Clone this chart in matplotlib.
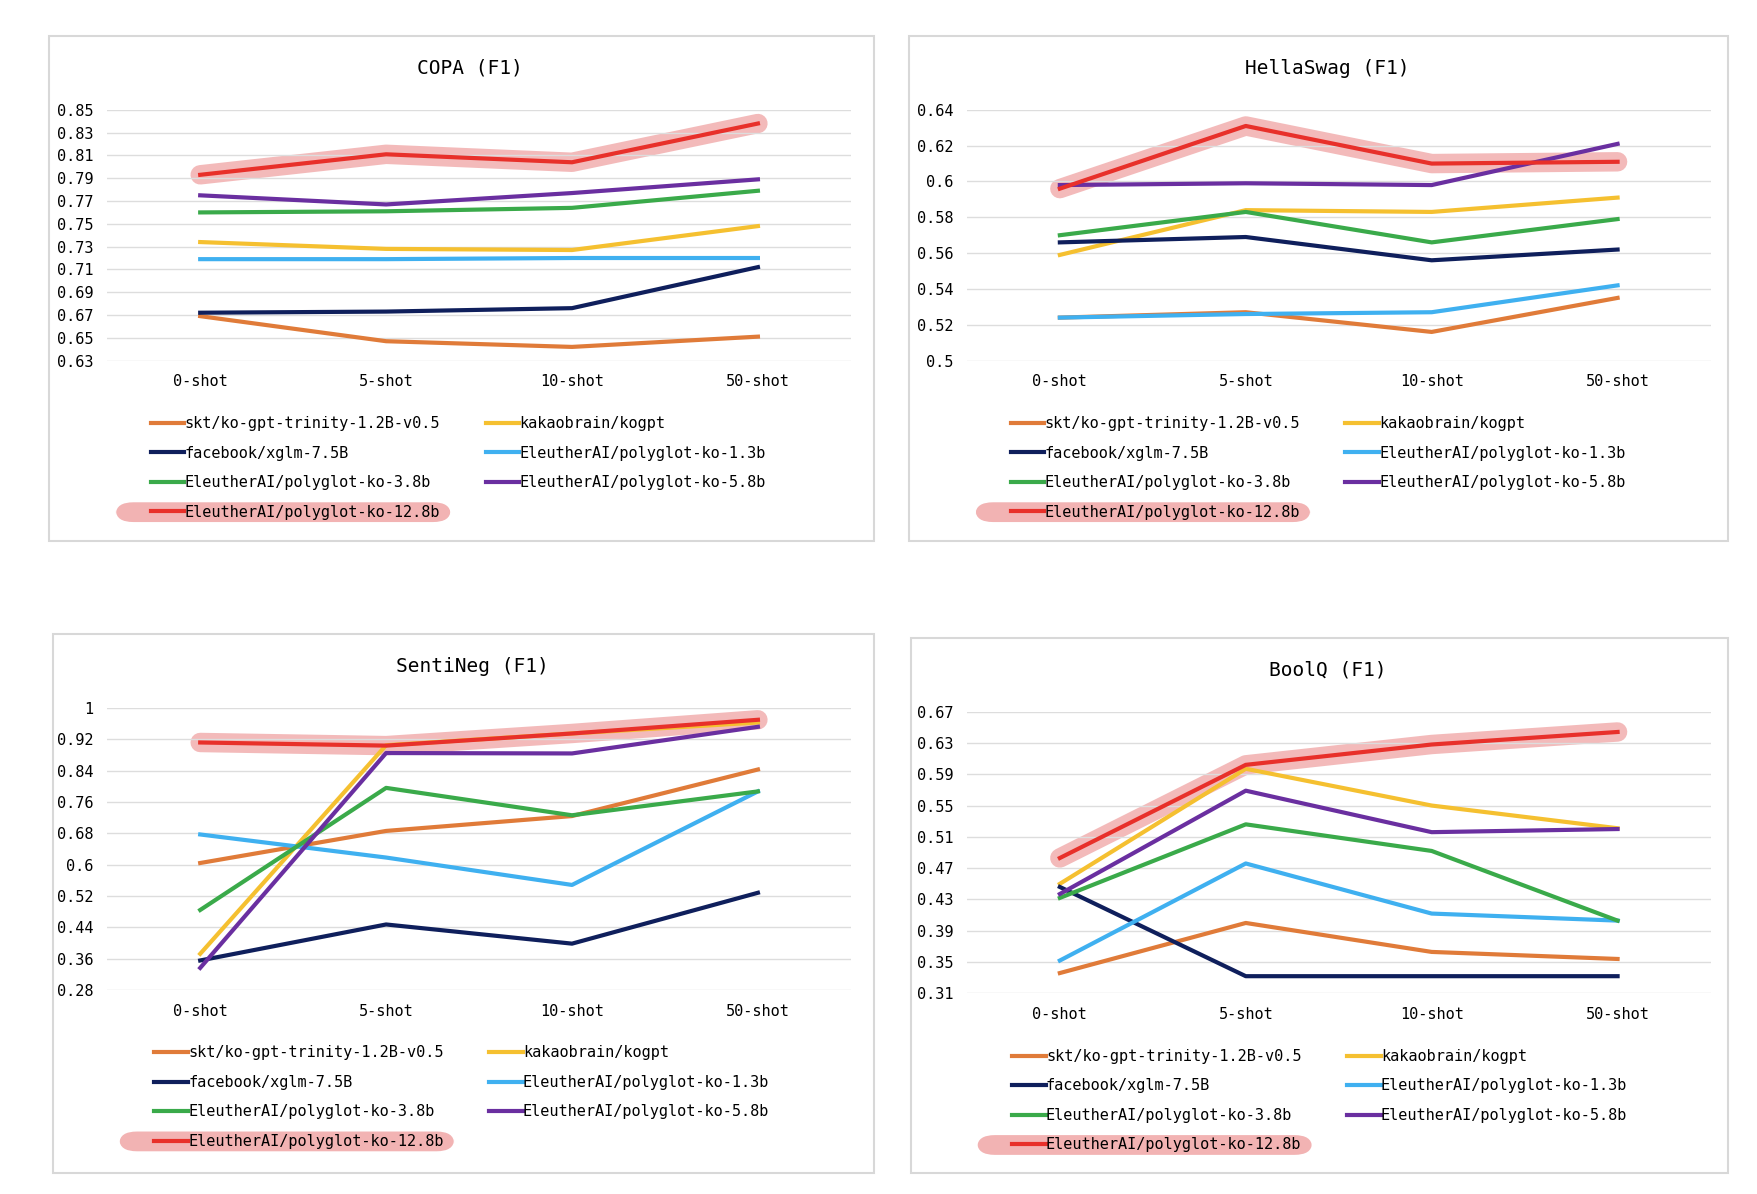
import numpy as np
import matplotlib
matplotlib.use('Agg')
import matplotlib.pyplot as plt
from matplotlib.patches import Rectangle, FancyBboxPatch

plt.rcParams['font.family'] = 'DejaVu Sans Mono'

shots = ['0-shot', '5-shot', '10-shot', '50-shot']
models = ['skt/ko-gpt-trinity-1.2B-v0.5', 'kakaobrain/kogpt',
          'facebook/xglm-7.5B', 'EleutherAI/polyglot-ko-1.3b',
          'EleutherAI/polyglot-ko-3.8b', 'EleutherAI/polyglot-ko-5.8b',
          'EleutherAI/polyglot-ko-12.8b']
colors = ['#e07b39', '#f5c030', '#0f1f5c', '#3fb0f0', '#3aaa4a', '#6a2fa0', '#e8302a']

copa = [[0.669, 0.647, 0.642, 0.651], [0.734, 0.728, 0.727, 0.748],
        [0.672, 0.673, 0.676, 0.712], [0.719, 0.719, 0.720, 0.720],
        [0.760, 0.761, 0.764, 0.779], [0.775, 0.767, 0.777, 0.789],
        [0.793, 0.811, 0.804, 0.838]]
hella = [[0.524, 0.527, 0.516, 0.535], [0.559, 0.584, 0.583, 0.591],
         [0.566, 0.569, 0.556, 0.562], [0.524, 0.526, 0.527, 0.542],
         [0.570, 0.583, 0.566, 0.579], [0.598, 0.599, 0.598, 0.621],
         [0.596, 0.631, 0.610, 0.611]]
sentineg = [[0.604, 0.686, 0.724, 0.843], [0.372, 0.905, 0.935, 0.963],
            [0.355, 0.447, 0.398, 0.528], [0.677, 0.618, 0.548, 0.787],
            [0.484, 0.796, 0.726, 0.787], [0.336, 0.885, 0.884, 0.952],
            [0.912, 0.904, 0.935, 0.970]]
boolq = [[0.336, 0.400, 0.363, 0.354], [0.450, 0.597, 0.550, 0.521],
         [0.446, 0.332, 0.332, 0.332], [0.352, 0.476, 0.412, 0.403],
         [0.432, 0.526, 0.492, 0.403], [0.437, 0.569, 0.516, 0.520],
         [0.483, 0.602, 0.628, 0.644]]

copa_ticks = ['0.63', '0.65', '0.67', '0.69', '0.71', '0.73', '0.75', '0.77', '0.79', '0.81', '0.83', '0.85']
hella_ticks = ['0.5', '0.52', '0.54', '0.56', '0.58', '0.6', '0.62', '0.64']
senti_ticks = ['0.28', '0.36', '0.44', '0.52', '0.6', '0.68', '0.76', '0.84', '0.92', '1']
boolq_ticks = ['0.31', '0.35', '0.39', '0.43', '0.47', '0.51', '0.55', '0.59', '0.63', '0.67']

panels = [
    ('COPA (F1)', copa, copa_ticks, 0.028, 0.497, 0.547, 0.970, 0.061, 0.484),
    ('HellaSwag (F1)', hella, hella_ticks, 0.517, 0.983, 0.547, 0.970, 0.550, 0.973),
    ('SentiNeg (F1)', sentineg, senti_ticks, 0.030, 0.497, 0.018, 0.469, 0.061, 0.484),
    ('BoolQ (F1)', boolq, boolq_ticks, 0.518, 0.983, 0.018, 0.466, 0.550, 0.973),
]

fig = plt.figure(figsize=(17.58, 11.94), dpi=100)
pink = '#f2b3b3'
legends = []

for title, data, ticks, bx0, bx1, by0, by1, ax0, ax1 in panels:
    fig.patches.append(Rectangle((bx0, by0), bx1 - bx0, by1 - by0, transform=fig.transFigure,
                                 fill=False, edgecolor='#d8d8d8', lw=1.5))
    top = by1 - 0.062
    bottom = top - 0.21 if by1 > 0.9 else top - 0.236
    ax = fig.add_axes([ax0, bottom, ax1 - ax0, top - bottom])
    fig.text((bx0 + bx1) / 2 + 0.005, by1 - 0.027, title, ha='center', va='center', fontsize=14)
    tv = [float(t) for t in ticks]
    ax.set_ylim(tv[0], tv[-1])
    ax.set_yticks(tv)
    ax.set_yticklabels(ticks, fontsize=11)
    ax.set_xlim(-0.5, 3.5)
    ax.set_xticks(range(4))
    ax.set_xticklabels(shots, fontsize=11)
    ax.grid(axis='y', color='#dddddd', lw=1)
    for s in ax.spines.values():
        s.set_visible(False)
    ax.tick_params(length=0, pad=10)
    ax.plot(range(4), data[-1], color=pink, lw=14, solid_capstyle='round', alpha=0.9, zorder=1)
    handles = []
    for name, vals, c in zip(models, data, colors):
        h, = ax.plot(range(4), vals, color=c, lw=3, zorder=3 if c == colors[-1] else 2, label=name)
        handles.append(h)
    order = [0, 2, 4, 6, 1, 3, 5]
    leg = fig.legend([handles[i] for i in order], [models[i] for i in order],
                     loc='upper left', bbox_to_anchor=(bx0 + 0.05, bottom - 0.035),
                     ncol=2, frameon=False, fontsize=11, handlelength=2.2,
                     handletextpad=0.0, columnspacing=3.0, labelspacing=0.95)
    legends.append(leg)

fig.canvas.draw()
inv = fig.transFigure.inverted()
for leg in legends:
    txt = leg.get_texts()[3]
    bb = txt.get_window_extent().transformed(inv)
    fig.patches.append(FancyBboxPatch((bb.x0 - 0.035, bb.y0 + 0.002), bb.width + 0.037, bb.height - 0.004,
                                      boxstyle='round,pad=0.004,rounding_size=0.01',
                                      transform=fig.transFigure, facecolor=pink,
                                      edgecolor='none', zorder=-1))

fig.savefig('out.png', dpi=100)
